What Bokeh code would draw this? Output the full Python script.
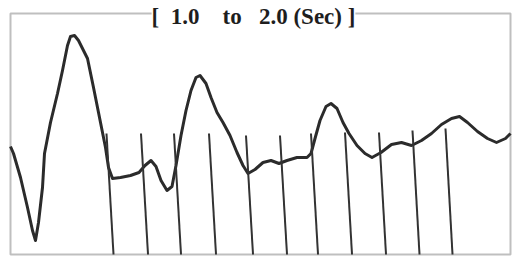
from bokeh.plotting import figure
from bokeh.models import Range1d, Label, ColumnDataSource, BoxAnnotation
from bokeh.embed import file_html
from bokeh.resources import INLINE

# ---- data (time in seconds, amplitude in chart-paper mm) ----
time_s = [1.000, 1.006, 1.020, 1.034, 1.044, 1.050, 1.056, 1.064, 1.068, 1.080,
          1.094, 1.104, 1.114, 1.120, 1.128, 1.136, 1.146, 1.154, 1.166, 1.180,
          1.190, 1.196, 1.204, 1.220, 1.240, 1.257, 1.269, 1.281, 1.291, 1.301,
          1.313, 1.323, 1.331, 1.341, 1.351, 1.361, 1.371, 1.379, 1.391, 1.401,
          1.413, 1.425, 1.439, 1.453, 1.465, 1.475, 1.489, 1.505, 1.521, 1.537,
          1.553, 1.573, 1.593, 1.601, 1.609, 1.619, 1.631, 1.641, 1.653, 1.665,
          1.677, 1.693, 1.709, 1.723, 1.741, 1.762, 1.782, 1.802, 1.822, 1.842,
          1.862, 1.882, 1.898, 1.914, 1.934, 1.954, 1.972, 1.990, 2.000]
amplitude = [10.8, 10.1, 7.7, 4.7, 2.4, 1.4, 3.2, 6.7, 10.1, 13.2,
             16.1, 18.4, 20.9, 21.8, 21.9, 21.4, 20.4, 19.6, 16.7, 13.2,
             10.7, 8.7, 7.6, 7.7, 7.9, 8.2, 8.9, 9.4, 8.8, 7.4,
             6.4, 6.8, 8.9, 11.9, 14.4, 16.4, 17.7, 17.9, 17.1, 15.7,
             14.2, 13.2, 11.9, 10.2, 8.9, 8.1, 8.5, 9.2, 9.4, 9.1,
             9.4, 9.7, 9.7, 10.1, 11.6, 13.4, 14.8, 15.1, 14.6, 13.2,
             12.1, 10.9, 10.1, 9.7, 10.2, 11.0, 11.2, 10.9, 11.4, 12.1,
             13.0, 13.6, 13.8, 13.2, 12.3, 11.6, 11.2, 11.6, 12.1]

marker_time = [1.192, 1.261, 1.327, 1.397, 1.471, 1.539, 1.601, 1.669, 1.737, 1.804, 1.870]
marker_top = [12.1, 12.1, 12.1, 12.1, 11.9, 11.9, 12.1, 12.2, 12.2, 12.4, 12.6]

window_start, window_end = 1.0, 2.0
amp_min, amp_max = 0.0, 24.1

title_text = "[\u00a0 1.0\u00a0\u00a0\u00a0 to\u00a0\u00a0 2.0 (Sec) ]"

# ---- styling ----
SCAN_SKEW = 0.014   # slant of the marker lines in the scanned original (s)
INK = "#2b2b2b"

p = figure(width=517, height=257, output_backend="svg", toolbar_location=None,
           x_axis_location=None, y_axis_location=None, title_location=None,
           x_range=Range1d(0.98, 2.014), y_range=Range1d(-0.3, 25.4),
           min_border=0)
p.grid.visible = False
p.background_fill_color = "white"
p.border_fill_color = "white"
p.outline_line_color = None

# chart box spanning the 1.0-2.0 s window
box = BoxAnnotation(left=window_start, right=window_end, bottom=amp_min, top=amp_max,
                    fill_alpha=0, line_color=INK, line_width=2)
p.add_layout(box)

src = ColumnDataSource(dict(t=time_s, a=amplitude))
p.line("t", "a", source=src, line_color=INK, line_width=3, line_join="round")

msrc = ColumnDataSource(dict(
    x0=[t + SCAN_SKEW for t in marker_time], y0=[amp_min] * len(marker_time),
    x1=marker_time, y1=marker_top))
p.segment("x0", "y0", "x1", "y1", source=msrc, line_color="#333333", line_width=2)

title = Label(x=253, y=241, x_units="screen", y_units="screen", text=title_text,
              text_align="center", text_baseline="alphabetic",
              text_font="Liberation Serif", text_font_style="bold",
              text_font_size="23px", text_color="#1e1e1e",
              background_fill_color="white", background_fill_alpha=1.0)
p.add_layout(title)

open("out.html", "w").write(file_html(p, INLINE))
